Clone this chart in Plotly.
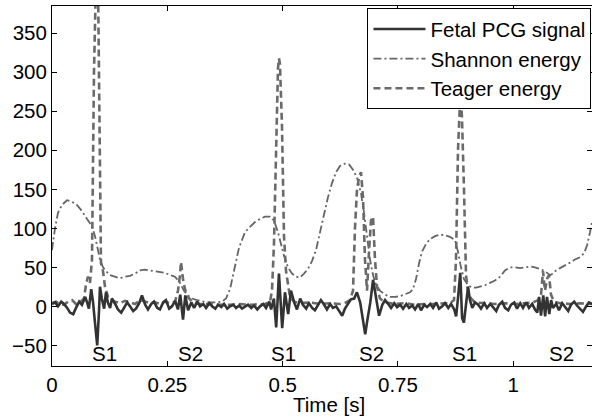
import plotly.graph_objects as go

# ---------------- data ----------------
pcg_t = [0.000, 0.007, 0.013, 0.020, 0.026, 0.033, 0.039, 0.046, 0.052, 0.059, 0.065, 0.072, 0.076, 0.080,
         0.085, 0.089, 0.093, 0.098, 0.102, 0.104, 0.108, 0.113, 0.117, 0.121, 0.126, 0.130, 0.137, 0.143,
         0.150, 0.156, 0.163, 0.169, 0.176, 0.182, 0.189, 0.195, 0.202, 0.208, 0.215, 0.221, 0.228, 0.234,
         0.241, 0.247, 0.254, 0.260, 0.267, 0.273, 0.278, 0.284, 0.289, 0.295, 0.302, 0.308, 0.315, 0.321,
         0.328, 0.334, 0.341, 0.347, 0.354, 0.360, 0.367, 0.373, 0.380, 0.386, 0.393, 0.399, 0.406, 0.412,
         0.419, 0.425, 0.432, 0.438, 0.445, 0.451, 0.458, 0.464, 0.471, 0.475, 0.481, 0.486, 0.492, 0.499,
         0.505, 0.512, 0.518, 0.525, 0.531, 0.538, 0.544, 0.551, 0.557, 0.564, 0.570, 0.577, 0.583, 0.590,
         0.596, 0.603, 0.609, 0.616, 0.622, 0.629, 0.635, 0.642, 0.648, 0.655, 0.661, 0.668, 0.674, 0.679,
         0.683, 0.690, 0.696, 0.703, 0.709, 0.716, 0.722, 0.729, 0.735, 0.742, 0.748, 0.755, 0.761, 0.768,
         0.774, 0.781, 0.787, 0.794, 0.800, 0.807, 0.813, 0.820, 0.826, 0.833, 0.839, 0.846, 0.852, 0.859,
         0.865, 0.872, 0.876, 0.880, 0.885, 0.889, 0.893, 0.898, 0.902, 0.906, 0.911, 0.917, 0.924, 0.930,
         0.937, 0.943, 0.950, 0.956, 0.963, 0.969, 0.976, 0.982, 0.989, 0.995, 1.002, 1.008, 1.015, 1.021,
         1.028, 1.034, 1.041, 1.047, 1.052, 1.056, 1.060, 1.065, 1.069, 1.073, 1.078, 1.082, 1.086, 1.093,
         1.099, 1.106, 1.112, 1.119, 1.125, 1.132, 1.138, 1.145, 1.151, 1.158, 1.164, 1.171]
pcg_v = [3, 5, 0, 6, 3, -2, -8, -10, -2, 6, 2, 12, 5, -3,
         22, 5, -20, -50, -5, 25, 10, -3, 18, 5, -2, 10, 3, -4,
         -8, -2, 5, 0, -6, -3, 4, 14, 2, -4, 3, 6, -2, -4,
         5, 8, -3, 0, 7, -4, 15, -17, 14, -5, 5, -2, 6, 0,
         3, -2, 4, 0, -3, 2, -1, 3, -3, 0, 2, -2, 1, -3,
         0, 2, -2, 1, -4, 0, 3, -2, 6, -4, 10, -27, 42, -28,
         18, -10, 20, 5, -4, 10, 2, -3, 4, -2, -5, 3, 8, 2,
         -4, 3, -2, 0, -6, -12, -3, 4, 9, 10, 18, 5, -20, -36,
         -20, 5, 34, 10, -12, 2, 8, 3, -2, 4, -1, 2, -3, 3,
         -2, 1, -4, 3, -5, 2, -1, 3, -2, 5, -3, 0, 4, -2,
         3, -4, -13, 10, 43, -15, -21, 5, 25, 8, -2, 5, 2, -3,
         4, -2, 3, -1, -6, 2, 6, -2, -5, 2, 5, -3, 4, -2,
         5, -2, 3, -4, -8, 12, -12, 14, -13, 12, -10, 8, -2, 3,
         -5, 4, -1, -6, 2, 6, 1, -3, -7, 0, 5, 3]

shannon_t = [0.000, 0.0065, 0.013, 0.0217, 0.0325, 0.0434, 0.0542, 0.065, 0.0759, 0.0867, 0.0932, 0.0997,
             0.104, 0.1106, 0.117, 0.1257, 0.1366, 0.1474, 0.1582, 0.169, 0.180, 0.1907, 0.2016, 0.2124,
             0.2233, 0.2341, 0.245, 0.2558, 0.2666, 0.2775, 0.2861, 0.2948, 0.3035, 0.3143, 0.3252, 0.336,
             0.3468, 0.3577, 0.3685, 0.3772, 0.3859, 0.3924, 0.3989, 0.4054, 0.4119, 0.4184, 0.4292, 0.4401,
             0.4509, 0.4617, 0.4726, 0.4812, 0.4899, 0.4964, 0.5029, 0.5116, 0.5203, 0.5289, 0.5376, 0.5463,
             0.555, 0.5636, 0.5723, 0.581, 0.5896, 0.5983, 0.607, 0.6157, 0.6243, 0.6352, 0.6438, 0.6525,
             0.6612, 0.6698, 0.6764, 0.6829, 0.6894, 0.6959, 0.7024, 0.711, 0.7219, 0.7327, 0.7436, 0.7544,
             0.7652, 0.7761, 0.7826, 0.7891, 0.7956, 0.8021, 0.8108, 0.8194, 0.8303, 0.8411, 0.852, 0.8628,
             0.8736, 0.8801, 0.8866, 0.8931, 0.9018, 0.9105, 0.9191, 0.9278, 0.9387, 0.9495, 0.9603, 0.9712,
             0.982, 0.9928, 1.0037, 1.0145, 1.0254, 1.0362, 1.047, 1.0579, 1.0687, 1.0796, 1.0861, 1.0926,
             1.1012, 1.1121, 1.1229, 1.1337, 1.1446, 1.1533, 1.1598, 1.1663, 1.1706]
shannon_v = [72, 100, 120, 130, 136, 134, 130, 122, 112, 103, 90, 70,
             60, 50, 45, 40, 38, 36, 38, 39, 42, 46, 47, 46,
             45, 44, 43, 40, 38, 30, 20, 14, 10, 8, 6, 5,
             5, 5, 6, 10, 22, 40, 60, 75, 85, 95, 102, 108,
             112, 115, 115, 110, 95, 80, 65, 50, 42, 38, 37, 42,
             48, 58, 72, 95, 118, 140, 158, 172, 180, 183, 182, 175,
             165, 145, 120, 90, 60, 40, 28, 20, 15, 12, 12, 13,
             15, 18, 22, 35, 55, 70, 80, 86, 90, 92, 91, 89,
             85, 70, 50, 35, 27, 24, 24, 25, 27, 30, 33, 38,
             46, 50, 50, 49, 50, 51, 50, 48, 45, 40, 42, 46,
             49, 52, 56, 60, 63, 68, 78, 95, 108]

teager_t = [0.000, 0.0087, 0.0173, 0.026, 0.0347, 0.0434, 0.052, 0.0607, 0.0694, 0.0737, 0.078, 0.0824,
            0.0867, 0.091, 0.0954, 0.0976, 0.0997, 0.1019, 0.104, 0.1062, 0.1106, 0.1149, 0.1214, 0.1279,
            0.1366, 0.1474, 0.1582, 0.169, 0.180, 0.1908, 0.2016, 0.2124, 0.2233, 0.2341, 0.245, 0.2558,
            0.2666, 0.2731, 0.2775, 0.2796, 0.284, 0.2883, 0.2948, 0.3035, 0.3122, 0.3208, 0.3425, 0.3642,
            0.3859, 0.4075, 0.4292, 0.4509, 0.4617, 0.4726, 0.4769, 0.4812, 0.4856, 0.4899, 0.492, 0.4942,
            0.4986, 0.5029, 0.5073, 0.5116, 0.5159, 0.5246, 0.5376, 0.5593, 0.581, 0.6026, 0.6243, 0.6373,
            0.646, 0.6525, 0.6568, 0.6612, 0.6655, 0.6698, 0.6742, 0.6785, 0.6829, 0.6872, 0.6915, 0.6959,
            0.7002, 0.7046, 0.711, 0.7219, 0.7436, 0.7652, 0.7869, 0.8086, 0.8303, 0.852, 0.8628, 0.8715,
            0.8758, 0.8801, 0.8845, 0.8866, 0.8888, 0.8931, 0.8975, 0.9018, 0.9083, 0.917, 0.9387, 0.9603,
            0.982, 1.0037, 1.0254, 1.0427, 1.0536, 1.0601, 1.0644, 1.0687, 1.0731, 1.0774, 1.0817, 1.0882,
            1.1012, 1.1229, 1.1446, 1.1706]
teager_v = [4, 6, 3, 2, 6, 8, 3, 5, 10, 28, 38, 30,
            60, 300, 420, 440, 420, 300, 120, 55, 45, 25, 12, 8,
            6, 4, 7, 5, 3, 8, 6, 4, 5, 3, 6, 4,
            6, 20, 40, 57, 35, 22, 12, 6, 4, 3, 3, 2,
            2, 3, 2, 3, 3, 6, 20, 80, 220, 305, 318, 310,
            230, 90, 45, 25, 12, 6, 4, 5, 3, 4, 3, 5,
            8, 20, 100, 150, 165, 172, 140, 60, 20, 70, 110, 115,
            60, 25, 10, 5, 3, 4, 2, 3, 3, 4, 4, 8,
            60, 200, 262, 268, 240, 150, 40, 20, 10, 5, 4, 3,
            4, 3, 4, 5, 8, 15, 45, 20, 35, 40, 15, 6,
            4, 3, 4, 3]

label_text = ["S1", "S2", "S1", "S2", "S1", "S2"]
label_t = [0.113, 0.301, 0.501, 0.693, 0.895, 1.105]
label_y = [-61, -61, -61, -61, -61, -61]

x_ticks = [0, 0.25, 0.5, 0.75, 1]
x_ticktext = ["0", "0.25", "0.5", "0.75", "1"]
y_ticks = [-50, 0, 50, 100, 150, 200, 250, 300, 350]

# ---------------- figure ----------------
FONT = "Liberation Sans, Arial, Helvetica, sans-serif"
FS = 20.5
fig = go.Figure()

fig.add_trace(go.Scatter(x=shannon_t, y=shannon_v, mode="lines", name="Shannon energy",
                         line=dict(color="#656565", width=1.8, dash="8px,3px,2px,3px"),
                         legendrank=2))
fig.add_trace(go.Scatter(x=teager_t, y=teager_v, mode="lines", name="Teager energy",
                         line=dict(color="#6a6a6a", width=2.6, dash="7px,4px"),
                         legendrank=3))
fig.add_trace(go.Scatter(x=pcg_t, y=pcg_v, mode="lines", name="Fetal PCG signal",
                         line=dict(color="#333333", width=2.6),
                         legendrank=1))

for txt, tx, ty in zip(label_text, label_t, label_y):
    fig.add_annotation(x=tx, y=ty, xref="x", yref="y", text=txt, showarrow=False,
                       font=dict(family=FONT, size=FS, color="black"),
                       xanchor="center", yanchor="middle")

fig.add_annotation(x=0.6, y=-0.108, xref="x", yref="paper", text="Time [s]", showarrow=False,
                   font=dict(family=FONT, size=FS, color="black"),
                   xanchor="center", yanchor="middle")

fig.update_layout(
    width=592, height=419,
    margin=dict(l=52, r=0, t=6, b=53),
    paper_bgcolor="white", plot_bgcolor="white",
    font=dict(family=FONT, size=FS, color="black"),
    showlegend=True,
    legend=dict(x=0.999, y=0.994, xanchor="right", yanchor="top",
                bgcolor="white", bordercolor="black", borderwidth=1,
                font=dict(family=FONT, size=FS, color="black"),
                tracegroupgap=0, itemwidth=52),
)
fig.update_xaxes(range=[0, 1.1706], tickvals=x_ticks, ticktext=x_ticktext,
                 showline=True, linecolor="black", linewidth=1, mirror="ticks",
                 ticks="inside", ticklen=5, tickcolor="black", showgrid=False, zeroline=False,
                 tickfont=dict(family=FONT, size=FS, color="black"))
fig.update_yaxes(range=[-76.5, 385], tickvals=y_ticks,
                 showline=True, linecolor="black", linewidth=1, mirror="ticks",
                 ticks="inside", ticklen=5, tickcolor="black", showgrid=False, zeroline=False,
                 tickfont=dict(family=FONT, size=FS, color="black"))

fig.write_html("out.html")
